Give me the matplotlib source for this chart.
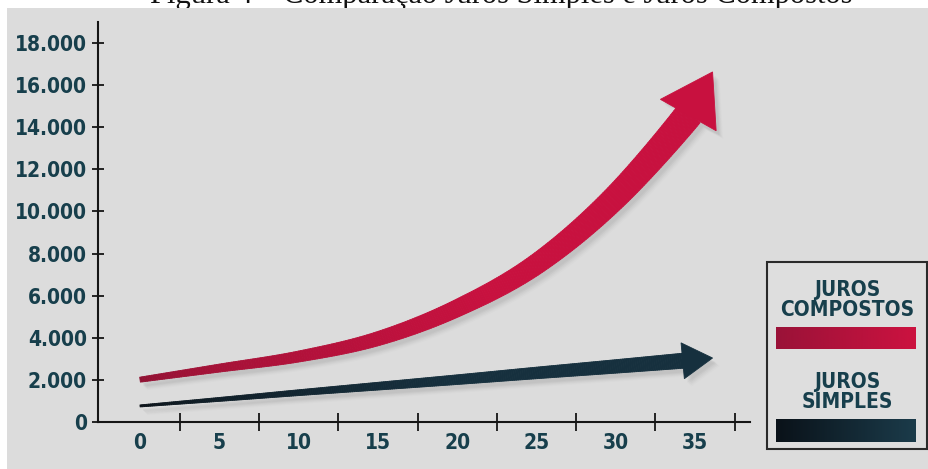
import numpy as np
import matplotlib
matplotlib.use("Agg")
import matplotlib.pyplot as plt
from matplotlib import font_manager
from matplotlib.patches import Rectangle, Polygon
from matplotlib.collections import PolyCollection
from matplotlib.colors import LinearSegmentedColormap, to_rgb

# ---- data -------------------------------------------------------------
years = [0, 5, 10, 15, 20, 25, 30, 35]
compound = [2000, 2550, 3100, 3950, 5400, 7500, 10700, 15000]
simple = [750, 1060, 1380, 1690, 2000, 2320, 2630, 2950]
compound_tip = (36.1, 16640)
simple_tip = (36.1, 3030)

y_ticks = [0, 2000, 4000, 6000, 8000, 10000, 12000, 14000, 16000, 18000]
y_labels = ["0", "2.000", "4.000", "6.000", "8.000", "10.000", "12.000",
            "14.000", "16.000", "18.000"]
x_labels = ["0", "5", "10", "15", "20", "25", "30", "35"]
x_minor = [2.5, 7.5, 12.5, 17.5, 22.5, 27.5, 32.5, 37.5]

legend_compound = "JUROS\nCOMPOSTOS"
legend_simple = "JUROS\nSIMPLES"
title = "Figura 4 – Comparação Juros Simples e Juros Compostos"

# ---- style ------------------------------------------------------------
W, H = 929, 469
TXT = "#173f4c"
RED0, RED1 = "#8e1233", "#c8113f"
NAVY0, NAVY1 = "#0b1117", "#16303e"

# condensed bold face for all the labels
_cond = font_manager.FontProperties(family="DejaVu Sans", stretch="condensed",
                                    weight="bold")
COND_FILE = font_manager.findfont(_cond)


def label_font(size):
    return font_manager.FontProperties(fname=COND_FILE, size=size)


def fx(px):
    return px / W


def fy(py):
    return 1 - py / H


fig = plt.figure(figsize=(W / 100, H / 100), dpi=100)
fig.patch.set_facecolor("white")
fig.patches.append(Rectangle((fx(7), 0), 1 - fx(7), fy(8), transform=fig.transFigure,
                             facecolor="#dcdcdc", edgecolor="none", zorder=-10))

fig.text(fx(150), fy(2.5), title, family=["Liberation Serif", "DejaVu Serif"],
         fontsize=22, ha="left", va="baseline", color="#111111", zorder=-20)

ax = fig.add_axes([fx(98), fy(421.7), fx(750) - fx(98), (421.7 - 22) / H])
ax.set_facecolor("none")
ax.set_xlim(-2.65, 38.46)
ax.set_ylim(0, (421.7 - 22) / 0.02102)

for side in ("top", "right"):
    ax.spines[side].set_visible(False)
for side in ("left", "bottom"):
    ax.spines[side].set_linewidth(1.5)
    ax.spines[side].set_color("#151515")

ax.set_yticks(y_ticks)
ax.set_yticklabels(y_labels)
ax.set_xticks(years)
ax.set_xticklabels(x_labels)
ax.set_xticks(x_minor, minor=True)
ax.tick_params(axis="y", direction="inout", length=8, width=1.3, color="#151515",
               pad=4, labelcolor=TXT)
ax.tick_params(axis="x", which="major", length=0, pad=8, labelcolor=TXT)
ax.tick_params(axis="x", which="minor", direction="inout", length=13, width=1.3,
               color="#151515")
for lab in ax.get_xticklabels() + ax.get_yticklabels():
    lab.set_fontproperties(label_font(15))


def catmull_rom(P, n=60):
    P = np.asarray(P, float)
    ext = np.vstack([2 * P[0] - P[1], P, 2 * P[-1] - P[-2]])
    out = []
    t = np.linspace(0, 1, n, endpoint=False)[:, None]
    for i in range(1, len(ext) - 2):
        p0, p1, p2, p3 = ext[i - 1:i + 3]
        out.append(0.5 * ((2 * p1) + (-p0 + p2) * t
                          + (2 * p0 - 5 * p1 + 4 * p2 - p3) * t ** 2
                          + (-p0 + 3 * p1 - 3 * p2 + p3) * t ** 3))
    out.append(P[-1:])
    return np.vstack(out)


def tapered_arrow(ax, xs, ys, w0, w1, head_len, head_w, c0, c1, z):
    disp = ax.transData.transform(np.column_stack([xs, ys]))
    path = catmull_rom(disp)
    seg = np.hypot(*np.diff(path, axis=0).T)
    s = np.concatenate([[0], np.cumsum(seg)])
    body_end = s[-1] - head_len
    sb = np.linspace(0, body_end + 1.5, 260)
    pts = np.column_stack([np.interp(sb, s, path[:, 0]), np.interp(sb, s, path[:, 1])])
    tang = np.gradient(pts, axis=0)
    tang /= np.hypot(tang[:, 0], tang[:, 1])[:, None]
    nrm = np.column_stack([-tang[:, 1], tang[:, 0]])
    w = w0 + (w1 - w0) * np.clip(sb / body_end, 0, 1)
    left = pts + nrm * w[:, None] / 2
    right = pts - nrm * w[:, None] / 2

    tip = path[-1]
    base = np.array([np.interp(body_end, s, path[:, 0]), np.interp(body_end, s, path[:, 1])])
    d = (tip - base) / np.hypot(*(tip - base))
    hn = np.array([-d[1], d[0]])
    head = np.array([base + hn * head_w / 2, tip, base - hn * head_w / 2])

    inv = ax.transData.inverted()
    # soft shadow under the arrow
    outline = np.vstack([left, head, right[::-1]])
    for k, a in zip(range(1, 6), [0.09, 0.08, 0.07, 0.05, 0.035]):
        sh = outline + np.array([2.0 + k, -3.0 - k])
        ax.add_patch(Polygon(inv.transform(sh), closed=True, facecolor="#8a8a8a",
                             edgecolor="none", alpha=a, zorder=z - 1))

    rgb0, rgb1 = np.array(to_rgb(c0)), np.array(to_rgb(c1))
    quads, cols = [], []
    n = len(pts)
    for i in range(n - 1):
        q = np.array([left[i], left[i + 1], right[i + 1], right[i]])
        quads.append(inv.transform(q))
        f = min(1.0, (i / (n - 1)) ** 0.6 * 1.4)
        cols.append(rgb0 + (rgb1 - rgb0) * f)
    pc = PolyCollection(quads, facecolors=cols, edgecolors=cols, linewidths=0.6, zorder=z)
    ax.add_collection(pc)
    ax.add_patch(Polygon(inv.transform(head), closed=True, facecolor=c1,
                         edgecolor=c1, linewidth=0.6, zorder=z))


tapered_arrow(ax, years + [compound_tip[0]], compound + [compound_tip[1]],
              5, 28, 50, 64, RED0, RED1, 4)
tapered_arrow(ax, years + [simple_tip[0]], simple + [simple_tip[1]],
              2, 15, 30, 36, NAVY0, NAVY1, 4)

# ---- legend box ---------------------------------------------------------
fig.patches.append(Rectangle((fx(767), fy(449)), fx(927) - fx(767), (449 - 262) / H,
                             transform=fig.transFigure, facecolor="#dedede",
                             edgecolor="#2a2a2a", linewidth=1.5, zorder=2))
fig.text(fx(847), fy(300), legend_compound, ha="center", va="center",
         fontproperties=label_font(15), color=TXT, linespacing=1.05, zorder=3)
fig.text(fx(847), fy(392), legend_simple, ha="center", va="center",
         fontproperties=label_font(15), color=TXT, linespacing=1.05, zorder=3)


def gradient_bar(x0, y0, x1, y1, c0, c1):
    bax = fig.add_axes([fx(x0), fy(y1), fx(x1) - fx(x0), (y1 - y0) / H], zorder=3)
    cmap = LinearSegmentedColormap.from_list("bar", [c0, c1])
    bax.imshow(np.linspace(0, 1, 256)[None, :], aspect="auto", cmap=cmap,
               extent=[0, 1, 0, 1])
    bax.set_axis_off()


gradient_bar(776, 327, 916, 349, "#9a1238", "#cc1240")
gradient_bar(776, 419, 916, 442, "#0a1219", "#1b3b4a")

fig.savefig("out.png", dpi=100)
